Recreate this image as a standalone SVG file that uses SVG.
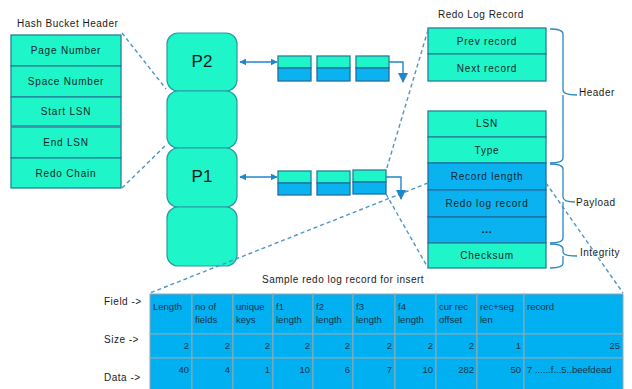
<svg xmlns="http://www.w3.org/2000/svg" width="632" height="389" viewBox="0 0 632 389">
<style>
.t{fill:#1EF5C8;stroke:#23819A;stroke-width:1.3}
.b{fill:#0AB2F0;stroke:#1E6FA0;stroke-width:1.3}
.p{fill:#1EF5C8;stroke:#2A9AA3;stroke-width:1.2}
.lbl{font-family:"Liberation Sans",Arial,sans-serif;font-size:10px;fill:#10282a;text-anchor:middle;letter-spacing:0.8px}
.ttl{font-family:"Liberation Sans",Arial,sans-serif;font-size:10px;fill:#1a1a1a;letter-spacing:0.5px}
.pl{font-family:"Liberation Sans",Arial,sans-serif;font-size:17px;fill:#0c1a1a;text-anchor:middle}
.dash{stroke:#4B95C9;stroke-width:1.4;stroke-dasharray:4,3;fill:none}
.arr{stroke:#1F86C8;stroke-width:1.4;fill:none}
.brace{stroke:#2C88C0;stroke-width:1.3;fill:none}
.cell{fill:#00B0F0;stroke:#9AA6AE;stroke-width:1}
.ct{font-family:"Liberation Sans",Arial,sans-serif;font-size:9.5px;fill:#17324a}
.cr{font-family:"Liberation Sans",Arial,sans-serif;font-size:9.5px;fill:#17324a;text-anchor:end}
</style>
<defs>
<marker id="ah" viewBox="0 0 10 10" refX="9" refY="5" markerWidth="7" markerHeight="7" orient="auto-start-reverse" markerUnits="userSpaceOnUse">
<path d="M0,0 L10,5 L0,10 z" fill="#1F86C8"/>
</marker>
<marker id="ad" viewBox="0 0 10 10" refX="9" refY="5" markerWidth="10" markerHeight="10" orient="auto" markerUnits="userSpaceOnUse">
<path d="M0,0 L10,5 L0,10 z" fill="#1F86C8"/>
</marker>
</defs>
<rect width="632" height="389" fill="#fff"/>

<g id="hash-bucket-header">
<text class="ttl" x="17" y="27">Hash Bucket Header</text>
<rect class="t" x="11" y="35" width="110" height="31"/>
<text class="lbl" x="66" y="54">Page Number</text>
<rect class="t" x="11" y="66" width="110" height="31"/>
<text class="lbl" x="66" y="85">Space Number</text>
<rect class="t" x="11" y="97" width="110" height="29"/>
<text class="lbl" x="66" y="115">Start LSN</text>
<rect class="t" x="11" y="127" width="110" height="31"/>
<text class="lbl" x="66" y="146">End LSN</text>
<rect class="t" x="11" y="158" width="110" height="30"/>
<text class="lbl" x="66" y="177">Redo Chain</text>
</g>

<g id="p-column">
<rect class="p" x="167" y="33" width="70" height="58" rx="11"/>
<text class="pl" x="202" y="67">P2</text>
<rect class="p" x="167" y="91" width="70" height="57" rx="11"/>
<rect class="p" x="167" y="148" width="70" height="59" rx="11"/>
<text class="pl" x="202" y="182">P1</text>
<rect class="p" x="167" y="207" width="70" height="59" rx="11"/>
</g>

<g id="chain-p2">
<rect class="t" x="278" y="56" width="33" height="12"/><rect class="b" x="278" y="68" width="33" height="13"/>
<rect class="t" x="317" y="56" width="33" height="12"/><rect class="b" x="317" y="68" width="33" height="13"/>
<rect class="t" x="356" y="56" width="33" height="12"/><rect class="b" x="356" y="68" width="33" height="13"/>
</g>
<g id="chain-p1">
<rect class="t" x="278" y="171" width="33" height="12"/><rect class="b" x="278" y="183" width="33" height="12"/>
<rect class="t" x="317" y="171" width="33" height="12"/><rect class="b" x="317" y="183" width="33" height="12"/>
<rect class="t" x="353" y="170" width="33" height="12"/><rect class="b" x="353" y="182" width="33" height="12"/>
</g>

<g id="redo-log-record">
<text class="ttl" x="438" y="18">Redo Log Record</text>
<rect class="t" x="428" y="28" width="118" height="26"/>
<text class="lbl" x="487" y="45">Prev record</text>
<rect class="t" x="428" y="54" width="118" height="27"/>
<text class="lbl" x="487" y="72">Next record</text>
<rect class="t" x="428" y="111" width="118" height="26"/>
<text class="lbl" x="487" y="127">LSN</text>
<rect class="t" x="428" y="137" width="118" height="26"/>
<text class="lbl" x="487" y="154">Type</text>
<rect class="b" x="428" y="163" width="118" height="27"/>
<text class="lbl" x="487" y="180">Record length</text>
<rect class="b" x="428" y="190" width="118" height="27"/>
<text class="lbl" x="487" y="207">Redo log record</text>
<rect class="b" x="428" y="217" width="118" height="26"/>
<text class="lbl" x="487" y="233" font-weight="bold">...</text>
<rect class="t" x="428" y="243" width="118" height="25"/>
<text class="lbl" x="487" y="259">Checksum</text>
</g>

<g id="braces">
<path class="brace" d="M550,29 Q563,29 563,34 V90 Q563,95 577,95 M563,95 V158 Q563,163 550,163"/>
<text class="ttl" x="579" y="96">Header</text>
<path class="brace" d="M550,164 Q563,164 563,169 V197 Q563,202 575,202 M563,202 V238 Q563,243 550,243"/>
<text class="ttl" x="576" y="206">Payload</text>
<path class="brace" d="M550,244 Q563,244 563,249 V252 Q563,256 577,256 M563,256 V263 Q563,268 550,268"/>
<text class="ttl" x="580" y="256">Integrity</text>
</g>

<g id="sample-table">
<text class="ttl" x="262" y="283">Sample redo log record for insert</text>
<text class="ttl" x="104" y="305">Field -&gt;</text>
<text class="ttl" x="104" y="343">Size  -&gt;</text>
<text class="ttl" x="104" y="381">Data -&gt;</text>
<g>
<rect class="cell" x="150" y="294" width="42" height="40"/><rect class="cell" x="192" y="294" width="41" height="40"/><rect class="cell" x="233" y="294" width="40" height="40"/><rect class="cell" x="273" y="294" width="40" height="40"/><rect class="cell" x="313" y="294" width="40" height="40"/><rect class="cell" x="353" y="294" width="42" height="40"/><rect class="cell" x="395" y="294" width="41" height="40"/><rect class="cell" x="436" y="294" width="41" height="40"/><rect class="cell" x="477" y="294" width="47" height="40"/><rect class="cell" x="524" y="294" width="99" height="40"/>
<rect class="cell" x="150" y="334" width="42" height="24"/><rect class="cell" x="192" y="334" width="41" height="24"/><rect class="cell" x="233" y="334" width="40" height="24"/><rect class="cell" x="273" y="334" width="40" height="24"/><rect class="cell" x="313" y="334" width="40" height="24"/><rect class="cell" x="353" y="334" width="42" height="24"/><rect class="cell" x="395" y="334" width="41" height="24"/><rect class="cell" x="436" y="334" width="41" height="24"/><rect class="cell" x="477" y="334" width="47" height="24"/><rect class="cell" x="524" y="334" width="99" height="24"/>
<rect class="cell" x="150" y="358" width="42" height="34"/><rect class="cell" x="192" y="358" width="41" height="34"/><rect class="cell" x="233" y="358" width="40" height="34"/><rect class="cell" x="273" y="358" width="40" height="34"/><rect class="cell" x="313" y="358" width="40" height="34"/><rect class="cell" x="353" y="358" width="42" height="34"/><rect class="cell" x="395" y="358" width="41" height="34"/><rect class="cell" x="436" y="358" width="41" height="34"/><rect class="cell" x="477" y="358" width="47" height="34"/><rect class="cell" x="524" y="358" width="99" height="34"/>
</g>
<text class="ct" x="153" y="310">Length</text>
<text class="ct" x="195" y="310">no of</text><text class="ct" x="195" y="323">fields</text>
<text class="ct" x="236" y="310">unique</text><text class="ct" x="236" y="323">keys</text>
<text class="ct" x="276" y="310">f1</text><text class="ct" x="276" y="323">length</text>
<text class="ct" x="316" y="310">f2</text><text class="ct" x="316" y="323">length</text>
<text class="ct" x="356" y="310">f3</text><text class="ct" x="356" y="323">length</text>
<text class="ct" x="398" y="310">f4</text><text class="ct" x="398" y="323">length</text>
<text class="ct" x="439" y="310">cur rec</text><text class="ct" x="439" y="323">offset</text>
<text class="ct" x="480" y="310">rec+seg</text><text class="ct" x="480" y="323">len</text>
<text class="ct" x="527" y="310">record</text>
<text class="cr" x="189" y="349">2</text><text class="cr" x="230" y="349">2</text><text class="cr" x="270" y="349">2</text><text class="cr" x="310" y="349">2</text><text class="cr" x="350" y="349">2</text><text class="cr" x="392" y="349">2</text><text class="cr" x="433" y="349">2</text><text class="cr" x="474" y="349">2</text><text class="cr" x="521" y="349">1</text><text class="cr" x="620" y="349">25</text>
<text class="cr" x="189" y="373">40</text><text class="cr" x="230" y="373">4</text><text class="cr" x="270" y="373">1</text><text class="cr" x="310" y="373">10</text><text class="cr" x="350" y="373">6</text><text class="cr" x="392" y="373">7</text><text class="cr" x="433" y="373">10</text><text class="cr" x="474" y="373">282</text><text class="cr" x="521" y="373">50</text>
<text class="ct" x="527" y="373">7 ......f...5..beefdead</text>
</g>

<g id="connectors">
<line class="dash" x1="122" y1="33" x2="166" y2="89"/>
<line class="dash" x1="122" y1="188" x2="167" y2="144"/>
<line class="dash" x1="428" y1="30" x2="386" y2="171"/>
<line class="dash" x1="386" y1="194" x2="428" y2="268"/>
<line class="dash" x1="428" y1="183" x2="150" y2="293"/>
<line class="dash" x1="546" y1="183" x2="623" y2="293"/>
<line class="arr" x1="240" y1="62" x2="277" y2="62" marker-start="url(#ah)" marker-end="url(#ah)"/>
<line class="arr" x1="240" y1="177" x2="277" y2="177" marker-start="url(#ah)" marker-end="url(#ah)"/>
<path class="arr" d="M389,62 H403 V82" marker-end="url(#ad)"/>
<path class="arr" d="M386,177 H401 V199" marker-end="url(#ad)"/>
</g>
</svg>
